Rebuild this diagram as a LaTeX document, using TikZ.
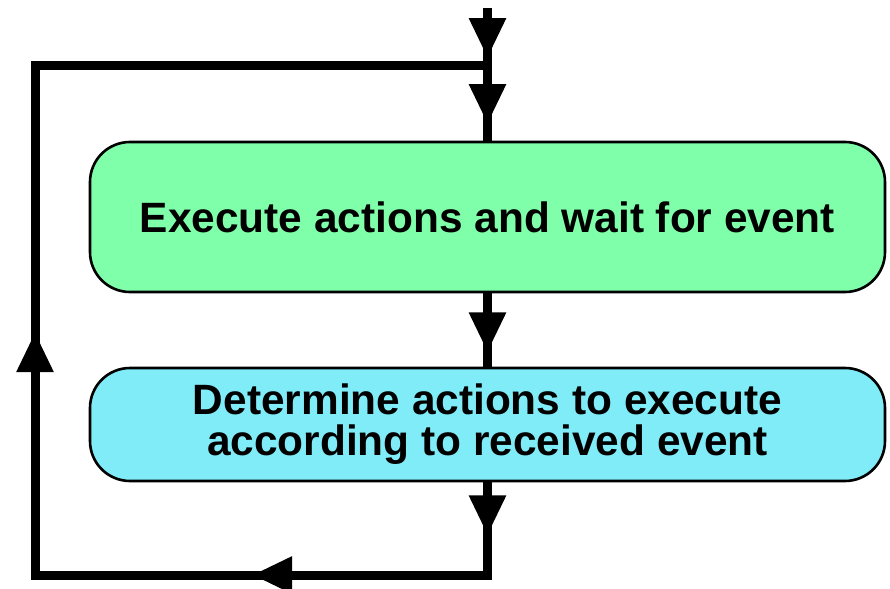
\documentclass[tikz,border=0pt]{standalone}
\usepackage{fontspec}
\setmainfont{Liberation Sans}
\usetikzlibrary{arrows.meta,decorations.markings}
\definecolor{execgreen}{RGB}{128,255,170}
\definecolor{decidecyan}{RGB}{128,236,248}
\tikzset{tri/.tip={Triangle[length=20pt,width=17.5pt]}}

\begin{document}
\begin{tikzpicture}[x=0.5pt,y=-0.5pt,
  box/.style={draw=black,line width=1.3pt,rounded corners=20pt,minimum width=397.5pt,
    font=\bfseries\fontsize{21.2}{20.5}\selectfont,align=center,inner sep=0pt},
  flow/.style={line width=4.5pt,line join=miter},
  tipat/.style={postaction={decorate,decoration={markings,mark=at position #1 with {\arrow{tri}}}}}]
\useasboundingbox (0,0) rectangle (890,589);
\node[box,fill=execgreen,minimum height=75pt] (exec) at (487.5,217) {Execute actions and wait for event};
\node[box,fill=decidecyan,minimum height=56.5pt] (decide) at (487.5,424.5) {Determine actions to execute\\according to received event};
\coordinate (entry) at (487.5,8);
\coordinate (join) at (487.5,65);
\coordinate (bl) at (35,575);
\coordinate (tl) at (35,65);
% entry, loop back
\draw[flow,tipat=25pt] (entry) -- (join);
\draw[flow,tipat=29.5pt] (join) -- (exec.north);
\draw[flow,tipat=29.5pt] (exec.south) -- (decide.north);
\draw[flow,tipat=26.5pt,tipat=164pt,tipat=394pt] (decide.south) |- (bl) -- (tl) -- (join);
\end{tikzpicture}
\end{document}
